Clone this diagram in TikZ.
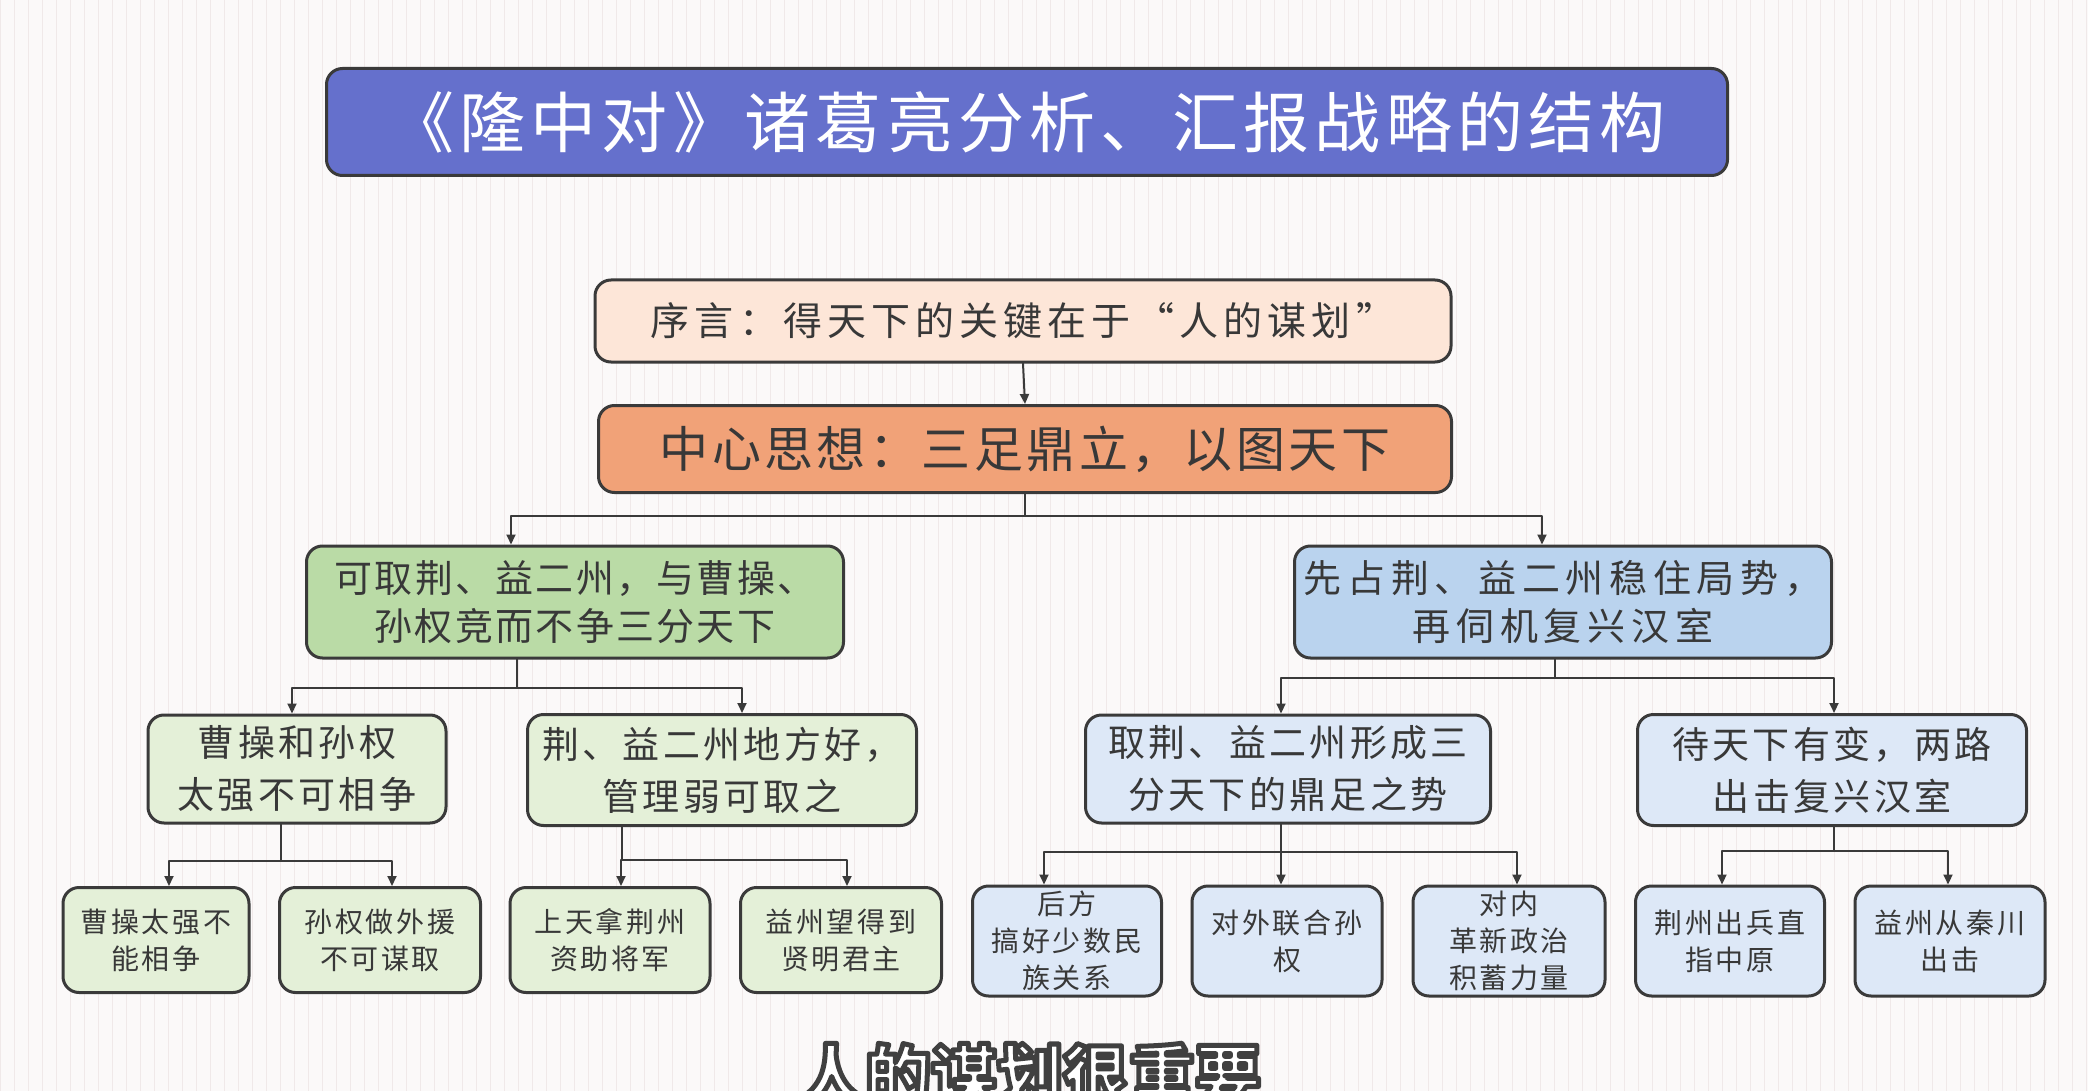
\documentclass[tikz,border=0pt]{standalone}
\usepackage{fontspec}
\setmainfont{Noto Sans CJK SC}
\usetikzlibrary{arrows.meta}
\definecolor{paper}{HTML}{FBF9F9}
\definecolor{gridc}{HTML}{F0E9E9}
\definecolor{edge}{HTML}{3A3A3A}
\definecolor{ink}{HTML}{383838}
\definecolor{ttlc}{HTML}{6570CC}
\definecolor{prec}{HTML}{FDE6D8}
\definecolor{cenc}{HTML}{F1A278}
\definecolor{grnc}{HTML}{BADBA6}
\definecolor{gltc}{HTML}{E4F0D8}
\definecolor{bluc}{HTML}{BAD3EE}
\definecolor{bltc}{HTML}{DDE8F7}
\newcommand\spaced[2]{\fontsize{#1}{#2}\selectfont\addfontfeature{LetterSpace=9}}
\begin{document}
\begin{tikzpicture}[x=1pt,y=-1pt,line join=round,line cap=round,
  box/.style={draw=edge,line width=3pt,rounded corners=16pt,inner sep=0pt,
    align=center,text=ink},
  arr/.style={draw=edge,line width=2pt,-{Triangle[length=10pt,width=9pt]}},
  mid/.style={font=\spaced{37}{52}},
  sml/.style={font=\spaced{28}{37}},
  subt/.style={inner sep=0pt,anchor=north,font=\bfseries\fontsize{66}{70}\selectfont}]
\useasboundingbox (0,0) rectangle (2088,1091);
\clip (0,0) rectangle (2088,1091);
% paper and grid
\fill[paper] (0,0) rectangle (2088,1091);
\draw[gridc,line width=1pt] (0,0) grid[step=14] (2088,1091);

% title, preface, main idea
\node[box,fill=ttlc,text=white,minimum width=1401,minimum height=107,
  font=\fontsize{66}{70}\selectfont\addfontfeature{LetterSpace=8}] (ttl) at (1027,122)
  {《隆中对》诸葛亮分析、汇报战略的结构};
\node[box,fill=prec,minimum width=856,minimum height=82,
  font=\fontsize{39}{42}\selectfont\addfontfeature{LetterSpace=13}] (pre) at (1023,321)
  {序言：得天下的关键在于“人的谋划”};
\node[box,fill=cenc,minimum width=853,minimum height=87,
  font=\fontsize{49}{52}\selectfont\addfontfeature{LetterSpace=7}] (cen) at (1025,449)
  {中心思想：三足鼎立，以图天下};

% two strategies
\node[box,fill=grnc,minimum width=537,minimum height=112,
  font=\fontsize{38}{48}\selectfont\addfontfeature{LetterSpace=6}] (grn) at (575,602)
  {可取荆、益二州，与曹操、\\孙权竞而不争三分天下};
\node[box,fill=bluc,minimum width=537,minimum height=112,
  font=\fontsize{38}{48}\selectfont\addfontfeature{LetterSpace=15}] (blu) at (1563,602)
  {先占荆、益二州稳住局势，\\再伺机复兴汉室};

% reasons and steps
\node[box,mid,fill=gltc,minimum width=298,minimum height=108] (gA) at (297,769)
  {曹操和孙权\\太强不可相争};
\node[box,mid,fill=gltc,minimum width=389,minimum height=111] (gB) at (722,770)
  {荆、益二州地方好，\\管理弱可取之};
\node[box,mid,fill=bltc,minimum width=405,minimum height=108] (bA) at (1288,769)
  {取荆、益二州形成三\\分天下的鼎足之势};
\node[box,mid,fill=bltc,minimum width=389,minimum height=111] (bB) at (1832,770)
  {待天下有变，两路\\出击复兴汉室};

% details
\foreach \n/\x/\w/\t in {gA1/156/186/{曹操太强不\\能相争}, gA2/380/201/{孙权做外援\\不可谋取},
    gB1/610/200/{上天拿荆州\\资助将军}, gB2/841/201/{益州望得到\\贤明君主}}
  \node[box,sml,fill=gltc,minimum width=\w,minimum height=105] (\n) at (\x,940) {\t};
\foreach \n/\x/\w/\t in {bA1/1067/189/{后方\\搞好少数民\\族关系}, bA2/1287/190/{对外联合孙\\权},
    bA3/1509/192/{对内\\革新政治\\积蓄力量}, bB1/1730/189/{荆州出兵直\\指中原},
    bB2/1950/190/{益州从秦川\\出击}}
  \node[box,sml,fill=bltc,minimum width=\w,minimum height=110] (\n) at (\x,941) {\t};

% connectors
\draw[arr] (pre.south) -- (cen.north);
\draw[arr] (cen.south) -- ++(0,22) -| ([xshift=-64pt]grn.north);
\draw[arr] (cen.south) -- ++(0,22) -| ([xshift=-21pt]blu.north);
\foreach \p/\ps/\d/\c/\cs in {grn/-58/28/gA/-5, grn/-58/28/gB/20,
    blu/-8/18/bA/-7, blu/-8/18/bB/2,
    gA/-16/36/gA1/13, gA/-16/36/gA2/12, gB/-100/33/gB1/11, gB/-100/33/gB2/6,
    bA/-7/27/bA1/-23, bA/-7/27/bA2/-6, bA/-7/27/bA3/8,
    bB/2/24/bB1/-8, bB/2/24/bB2/-2}
  \draw[arr] ([xshift=\ps pt]\p.south) -- ++(0,\d) -| ([xshift=\cs pt]\c.north);

% subtitle, white letters with a dark outline
\node[subt,text=white] (sub) at (1030,1043)
  {\special{pdf:literal direct 2 Tr 0.25 0.25 0.25 RG 5 w}人的谋划很重要\special{pdf:literal direct 0 Tr}};
\end{tikzpicture}
\end{document}
